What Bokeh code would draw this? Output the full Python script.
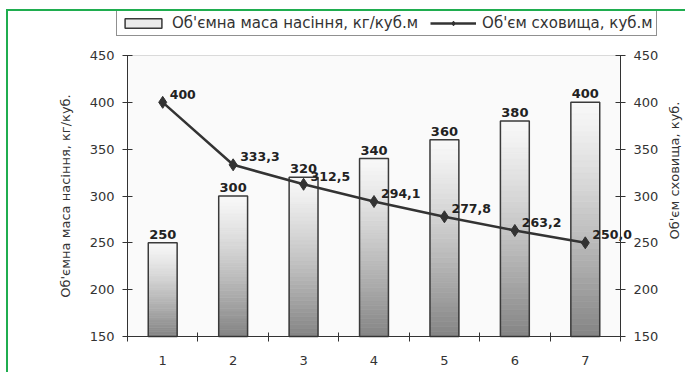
import math
from bokeh.plotting import figure
from bokeh.models import (Range1d, LinearAxis, FixedTicker, ColumnDataSource,
                          Legend, LegendItem, BoxAnnotation, Label)
from bokeh.core.properties import value
from bokeh.embed import file_html
from bokeh.resources import INLINE

# ---------------- data ----------------
categories = ["1", "2", "3", "4", "5", "6", "7"]
seed_density = [250, 300, 320, 340, 360, 380, 400]          # left axis, bars
storage_volume = [400.0, 333.3, 312.5, 294.1, 277.8, 263.2, 250.0]  # right axis, line
storage_labels = ["400", "333,3", "312,5", "294,1", "277,8", "263,2", "250,0"]
y_ticks = [150, 200, 250, 300, 350, 400, 450]
y_min, y_max = 150, 450

bar_series_name = "Об'ємна маса насіння, кг/куб.м"
line_series_name = "Об'єм сховища, куб.м"
left_axis_title = "Об'ємна маса насіння, кг/куб."
right_axis_title = "Об'єм сховища, куб."

# ---------------- style / layout (pixels) ----------------
FONT = "DejaVu Sans"
DARK = "#333333"
GREEN = "#1fad4f"
BAR_W = 0.41
N_SLICES = 40
W, H = 679, 363
AREA_L, AREA_R, AREA_T, AREA_B = 119, 612, 44, 325   # plotting area inside the canvas

n = len(categories)
x_pos = [i + 1 for i in range(n)]
x_lo, x_hi = 0.5, n + 0.5
kx = (AREA_R - AREA_L) / (x_hi - x_lo)
ky = (AREA_B - AREA_T) / (y_max - y_min)
xr = Range1d(x_lo - AREA_L / kx, x_hi + (W - AREA_R) / kx)
yr = Range1d(y_min - (H - AREA_B) / ky, y_max + AREA_T / ky)

p = figure(width=W, height=H, x_range=xr, y_range=yr,
           output_backend="svg", toolbar_location=None,
           min_border=0, min_border_left=0, min_border_right=0,
           min_border_top=0, min_border_bottom=0)
p.title.visible = False
p.margin = (9, 0, 0, 6)
p.styles = {"border-top": f"2px solid {GREEN}", "border-left": f"2px solid {GREEN}"}
p.background_fill_color = "white"
p.border_fill_color = "white"
p.outline_line_color = None
p.xgrid.visible = False
p.ygrid.visible = False
p.extra_y_ranges = {"r": Range1d(yr.start, yr.end)}

# plotting-area background and top border
p.add_layout(BoxAnnotation(left=x_lo, right=x_hi, bottom=y_min, top=y_max,
                           fill_color="#fafafa", fill_alpha=1,
                           line_color="#8c8c8c", line_width=1, level="underlay"))

# x axis: labels at category centres, ticks at category boundaries
xa = p.xaxis[0]
xa.fixed_location = y_min
xa.bounds = (x_lo, x_hi)
xa.ticker = FixedTicker(ticks=x_pos, minor_ticks=[x - 0.5 for x in x_pos] + [x_hi])
xa.major_label_overrides = {x: c for x, c in zip(x_pos, categories)}
xa.major_tick_in = 0
xa.major_tick_out = 0
xa.minor_tick_in = 4
xa.minor_tick_out = 5
xa.minor_tick_line_color = DARK
xa.axis_line_color = DARK
xa.major_label_standoff = 14
xa.major_label_text_font = FONT
xa.major_label_text_font_size = "13px"
xa.major_label_text_color = DARK

def style_y(ax):
    ax.ticker = FixedTicker(ticks=y_ticks)
    ax.bounds = (y_min, y_max)
    ax.major_tick_in = 5
    ax.major_tick_out = 5
    ax.minor_tick_in = 0
    ax.minor_tick_out = 0
    ax.major_tick_line_color = DARK
    ax.axis_line_color = DARK
    ax.major_label_standoff = 8
    ax.major_label_text_font = FONT
    ax.major_label_text_font_size = "13px"
    ax.major_label_text_color = DARK

ya = p.yaxis[0]
style_y(ya)
ya.fixed_location = x_lo
ya.axis_label = left_axis_title
ya.axis_label_text_font = FONT
ya.axis_label_text_font_size = "13px"
ya.axis_label_text_font_style = "normal"
ya.axis_label_text_color = DARK
ya.axis_label_standoff = 14

ra = LinearAxis(y_range_name="r")
style_y(ra)
ra.fixed_location = x_hi
p.add_layout(ra, "right")

# right axis title, reading bottom-to-top like the left one
p.add_layout(Label(x=666, y=H - 159, x_units="screen", y_units="screen",
                   text=right_axis_title, angle=math.pi / 2,
                   text_align="center", text_baseline="middle",
                   text_font=FONT, text_font_size="13px", text_color=DARK))

# ---------------- bars with vertical gradient ----------------
sx, stop, sbot, scol = [], [], [], []
for x, v in zip(x_pos, seed_density):
    for k in range(N_SLICES):
        t0, t1 = k / N_SLICES, (k + 1) / N_SLICES
        sx.append(x)
        stop.append(v - (v - y_min) * t0)
        sbot.append(v - (v - y_min) * t1)
        tm = (t0 + t1) / 2
        g = int(round(248 - (248 - 132) * tm ** 1.2))
        scol.append(f"#{g:02x}{g:02x}{g:02x}")
slices = ColumnDataSource(dict(x=sx, top=stop, bottom=sbot, color=scol))
slices_r = p.vbar(x="x", width=BAR_W, top="top", bottom="bottom", source=slices,
                  fill_color="color", line_color="color", line_width=0.6)
outline_r = p.vbar(x=x_pos, width=BAR_W, top=seed_density, bottom=y_min,
                   fill_color=None, line_color="#3a3a3a", line_width=1.5)

p.text(x=x_pos, y=seed_density, text=[str(v) for v in seed_density],
       text_align="center", text_baseline="bottom", y_offset=-4,
       text_font=value(FONT), text_font_style="bold", text_font_size="13px",
       text_color="#222222")

# ---------------- line ----------------
line_r = p.line(x=x_pos, y=storage_volume, y_range_name="r",
                line_color=DARK, line_width=2.5)
marker_r = p.scatter(x=x_pos, y=storage_volume, y_range_name="r", marker="diamond",
                     size=12, fill_color=DARK, line_color=DARK)
p.text(x=x_pos, y=storage_volume, text=storage_labels, y_range_name="r",
       text_align="left", text_baseline="middle", x_offset=7, y_offset=-8,
       text_font=value(FONT), text_font_style="bold", text_font_size="12.5px",
       text_color="#222222")

# ---------------- legend ----------------
legend = Legend(items=[LegendItem(label=bar_series_name, renderers=[slices_r, outline_r], index=6),
                       LegendItem(label=line_series_name, renderers=[line_r, marker_r])],
                orientation="horizontal", location=(108, H - 1 - 24),
                glyph_width=46, glyph_height=12, label_height=12,
                label_standoff=6, spacing=12, padding=3, margin=0,
                label_text_font=FONT, label_text_font_size="15px",
                label_text_color=DARK,
                border_line_color="#222222", border_line_width=1,
                background_fill_color="white", background_fill_alpha=1)
p.add_layout(legend, "center")

open("out.html", "w").write(file_html(p, INLINE))
